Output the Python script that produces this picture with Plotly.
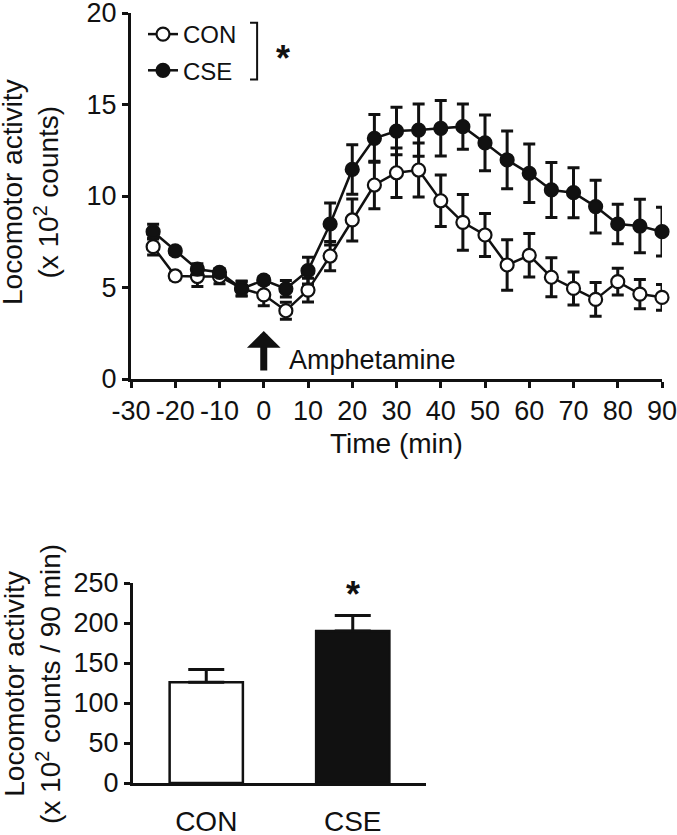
import plotly.graph_objects as go

# ---- data ----
time_min = [-25, -20, -15, -10, -5, 0, 5, 10, 15, 20, 25, 30, 35, 40, 45, 50, 55, 60, 65, 70, 75, 80, 85, 90]
con_mean = [7.23, 5.63, 5.6, 5.6, 4.95, 4.6, 3.73, 4.86, 6.72, 8.69, 10.6, 11.27, 11.42, 9.74, 8.56, 7.87, 6.23, 6.76, 5.56, 4.95, 4.35, 5.32, 4.64, 4.46]
con_sem = [0.45, 0.2, 0.55, 0.4, 0.4, 0.6, 0.47, 0.65, 0.8, 1.15, 1.3, 1.35, 1.48, 1.41, 1.52, 1.18, 1.38, 1.19, 1.07, 0.9, 0.92, 0.73, 0.8, 0.7]
cse_mean = [8.05, 7.0, 6.0, 5.83, 4.93, 5.4, 4.93, 5.92, 8.47, 11.45, 13.15, 13.55, 13.6, 13.7, 13.79, 12.9, 11.97, 11.24, 10.33, 10.18, 9.42, 8.47, 8.36, 8.05]
cse_sem = [0.4, 0.2, 0.3, 0.2, 0.4, 0.2, 0.45, 0.73, 1.15, 1.35, 1.3, 1.3, 1.43, 1.52, 1.24, 1.52, 1.58, 1.6, 1.5, 1.37, 1.44, 1.08, 1.46, 1.33]

groups = ["CON", "CSE"]
total_mean = [126, 190]
total_sem = [16, 19.5]

x_ticks = [-30, -20, -10, 0, 10, 20, 30, 40, 50, 60, 70, 80, 90]
x_tick_text = ["-30", "-20", "-10", "0", "10", "20", "30", "40", "50", "60", "70", "80", "90"]
y_ticks_top = [0, 5, 10, 15, 20]
y_ticks_bot = [0, 50, 100, 150, 200, 250]

FONT = "Liberation Sans, Arial, sans-serif"
BLACK = "#111111"

fig = go.Figure()

fig.add_trace(go.Scatter(
    x=time_min, y=con_mean, mode="lines+markers", name="CON",
    legendgroup="a",
    line=dict(color=BLACK, width=2.5),
    marker=dict(symbol="circle", size=13, color="white", line=dict(color=BLACK, width=2.2)),
    error_y=dict(type="data", array=con_sem, visible=True, color=BLACK, thickness=3, width=6),
    cliponaxis=False, xaxis="x", yaxis="y",
))
fig.add_trace(go.Scatter(
    x=time_min, y=cse_mean, mode="lines+markers", name="CSE",
    legendgroup="b",
    line=dict(color=BLACK, width=2.5),
    marker=dict(symbol="circle", size=13, color=BLACK, line=dict(color=BLACK, width=2.2)),
    error_y=dict(type="data", array=cse_sem, visible=True, color=BLACK, thickness=3, width=6),
    cliponaxis=False, xaxis="x", yaxis="y",
))

fig.add_trace(go.Bar(
    x=groups, y=total_mean, width=0.5,
    marker=dict(color=["white", BLACK], line=dict(color=BLACK, width=2.5)),
    error_y=dict(type="data", symmetric=False, array=total_sem, arrayminus=[0, 0],
                 visible=True, color=BLACK, thickness=3, width=18),
    showlegend=False, xaxis="x2", yaxis="y2",
))

W, H = 677, 835
def px(x):
    return x / W
def py(y):
    return 1 - y / H

axis_common = dict(showgrid=False, zeroline=False, showline=True, linecolor=BLACK, linewidth=3,
                   ticks="outside", tickcolor=BLACK, tickwidth=3, ticklen=6, automargin=False,
                   tickangle=0, ticklabeloverflow="allow",
                   tickfont=dict(family=FONT, size=27, color=BLACK))

fig.update_layout(
    template="none",
    width=W, height=H, margin=dict(l=0, r=0, t=0, b=0, pad=0),
    paper_bgcolor="white", plot_bgcolor="white",
    font=dict(family=FONT, color=BLACK),
    xaxis=dict(domain=[px(131), px(662)], range=[-30, 90], tickvals=x_ticks, ticktext=x_tick_text,
               anchor="y", **axis_common),
    yaxis=dict(domain=[py(379), py(13)], range=[0, 20], tickvals=y_ticks_top,
               anchor="x", **axis_common),
    xaxis2=dict(domain=[px(133), px(426)], range=[-0.5, 1.5], anchor="y2",
                showgrid=False, zeroline=False, showline=True, linecolor=BLACK, linewidth=3,
                ticks="outside", ticklen=11, tickcolor="rgba(0,0,0,0)", automargin=False,
                tickangle=0, ticklabeloverflow="allow",
                tickfont=dict(family=FONT, size=28, color=BLACK)),
    yaxis2=dict(domain=[py(783), py(583)], range=[0, 250], tickvals=y_ticks_bot,
                anchor="x2", **axis_common),
    showlegend=True,
    legend=dict(x=px(143), y=py(12), xanchor="left", yanchor="top",
                font=dict(family=FONT, size=24, color=BLACK),
                bgcolor="rgba(0,0,0,0)", tracegroupgap=2, traceorder="grouped"),
)

annotations = [
    dict(text="Time (min)", x=0.5 * (px(131) + px(662)), y=py(443), xref="paper", yref="paper",
         showarrow=False, font=dict(family=FONT, size=28, color=BLACK), xanchor="center", yanchor="middle"),
    dict(text="Locomotor activity<br>(x 10<sup>2</sup> counts)", x=px(31), y=py(192),
         xref="paper", yref="paper", textangle=-90, showarrow=False,
         font=dict(family=FONT, size=28, color=BLACK), xanchor="center", yanchor="middle"),
    dict(text="Locomotor activity<br>(x 10<sup>2</sup> counts / 90 min)", x=px(32), y=py(684),
         xref="paper", yref="paper", textangle=-90, showarrow=False,
         font=dict(family=FONT, size=28, color=BLACK), xanchor="center", yanchor="middle"),
    # Amphetamine arrow
    dict(x=0, y=2.62, ax=0, ay=0.38, xref="x", yref="y", axref="x", ayref="y",
         text="", showarrow=True, arrowhead=1, arrowsize=0.8, arrowwidth=7, arrowcolor=BLACK),
    dict(text="Amphetamine", x=5.3, y=1.05, xref="x", yref="y", showarrow=False,
         xanchor="left", yanchor="middle", font=dict(family=FONT, size=27, color=BLACK)),
    # significance stars
    dict(text="<b>*</b>", x=4.3, y=17.5, xref="x", yref="y", showarrow=False,
         xanchor="center", yanchor="middle", font=dict(family=FONT, size=36, color=BLACK)),
    dict(text="<b>*</b>", x="CSE", y=236, xref="x2", yref="y2", showarrow=False,
         xanchor="center", yanchor="middle", font=dict(family=FONT, size=36, color=BLACK)),
]
fig.update_layout(annotations=annotations)

fig.add_shape(type="path", xref="x", yref="y",
              path="M -3.1 19.47 L -1.5 19.47 L -1.5 16.37 L -3.1 16.37",
              line=dict(color=BLACK, width=2))

fig.write_html("out.html", config={"displayModeBar": False},
               post_script="document.body.style.margin='0';")
